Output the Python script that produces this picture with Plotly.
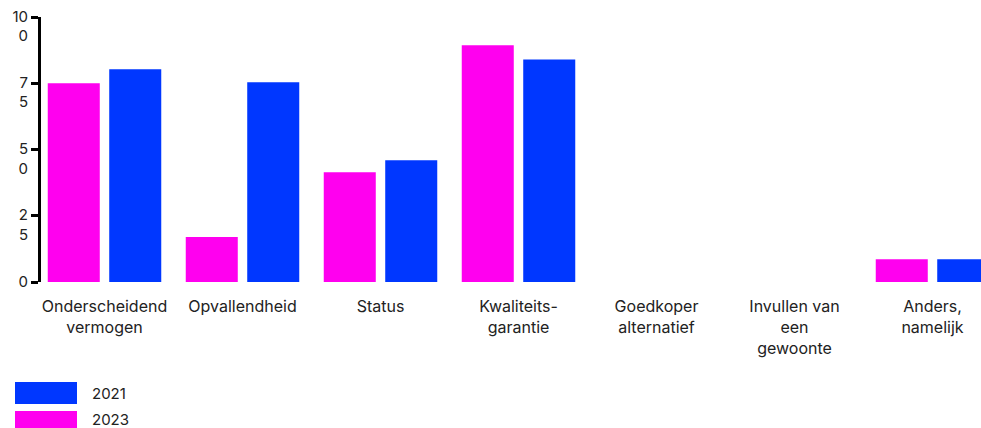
import plotly.graph_objects as go

categories = [
    "Onderscheidend<br>vermogen",
    "Opvallendheid",
    "Status",
    "Kwaliteits-<br>garantie",
    "Goedkoper<br>alternatief",
    "Invullen van<br>een<br>gewoonte",
    "Anders,<br>namelijk",
]
values_2023 = [75.0, 17.0, 41.4, 89.3, 0, 0, 8.6]
values_2021 = [80.3, 75.4, 45.9, 84.0, 0, 0, 8.6]

tick_vals = [0, 25, 50, 75, 100]
tick_text = ["0<br>\u00a0", "2<br>5", "5<br>0", "7<br>5", "10<br>0"]

PINK = "#ff00ef"
BLUE = "#0037ff"
TEXT = "#222222"
FONT = "Inter"

W, H = 981, 428
ML, MT, MR = 41, 17, 0
PH = 265
MB = H - MT - PH
PW = W - ML - MR
CAT_PX = 138.0
FIRST_CENTER_PX = 104.5

x0 = -(FIRST_CENTER_PX - ML) / CAT_PX
x1 = x0 + PW / CAT_PX

fig = go.Figure()
fig.add_trace(go.Bar(x=categories, y=values_2023, name="2023", marker_color=PINK,
                     marker_line_width=0, showlegend=False))
fig.add_trace(go.Bar(x=categories, y=values_2021, name="2021", marker_color=BLUE,
                     marker_line_width=0, showlegend=False))


def px_to_paper_x(px):
    return (px - ML) / PW


def px_to_paper_y(py):
    return (MT + PH - py) / PH


legend_items = [("2021", BLUE, 382, 404, 393), ("2023", PINK, 411, 433, 420)]
shapes = []
annotations = []
for label, color, top, bottom, mid in legend_items:
    shapes.append(dict(type="rect", xref="paper", yref="paper",
                       x0=px_to_paper_x(15), x1=px_to_paper_x(77),
                       y0=px_to_paper_y(bottom), y1=px_to_paper_y(top),
                       fillcolor=color, line_width=0, layer="above"))
    annotations.append(dict(text=label, xref="paper", yref="paper",
                            x=px_to_paper_x(90), y=px_to_paper_y(mid),
                            xanchor="left", yanchor="middle", showarrow=False,
                            font=dict(family=FONT, size=15, color=TEXT)))

fig.update_layout(
    width=W, height=H,
    margin=dict(l=ML, r=MR, t=MT, b=MB, pad=0),
    paper_bgcolor="white", plot_bgcolor="white",
    barmode="group", bargap=0.109, bargroupgap=0.154,
    font=dict(family=FONT, size=15, color=TEXT),
    shapes=shapes, annotations=annotations,
    showlegend=False,
)
fig.update_xaxes(range=[x0, x1], showgrid=False, zeroline=False, showline=False,
                 ticks="", tickfont=dict(family=FONT, size=16, color=TEXT),
                 tickangle=0, ticklabelstandoff=13)
fig.update_yaxes(range=[0, 100], showgrid=False, zeroline=False, showline=True,
                 linecolor="black", linewidth=3, ticks="outside", ticklen=7,
                 tickwidth=3, tickcolor="black", tickvals=tick_vals, ticktext=tick_text,
                 tickfont=dict(family=FONT, size=15, color=TEXT), ticklabelshift=9)

fig.write_html("out.html")
